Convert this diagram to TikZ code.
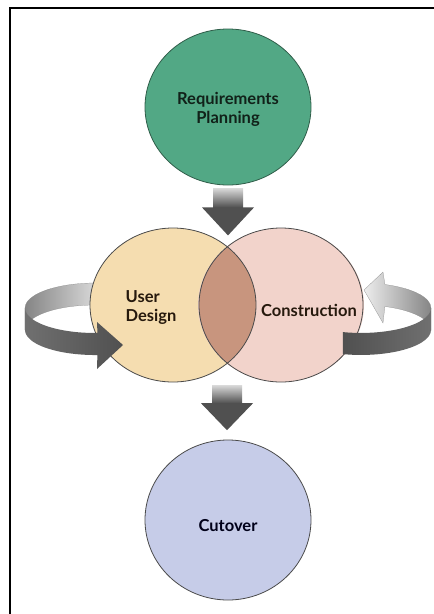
\documentclass[tikz,border=0pt]{standalone}
\usepackage{fontspec}
\setmainfont{Lato}
\usetikzlibrary{shapes.geometric,calc}
\definecolor{reqgreen}{HTML}{52A885}
\definecolor{reqline}{HTML}{2F5D49}
\definecolor{userfill}{HTML}{F5DDB0}
\definecolor{consfill}{HTML}{F2D3CB}
\definecolor{overlapfill}{HTML}{C8957E}
\definecolor{cutfill}{HTML}{C6CCE8}
\definecolor{rimline}{HTML}{4A4A4A}
\definecolor{bandlight}{HTML}{EDEDED}
\definecolor{bandmid}{HTML}{858585}
\definecolor{banddark}{HTML}{505050}
\tikzset{
  phase/.style={ellipse, inner sep=0pt, minimum width=166pt, minimum height=154pt},
  lbl/.style={font=\fontsize{16.5}{19}\selectfont\bfseries, align=center, text=black!85},
}
\begin{document}
\begin{tikzpicture}[x=1pt,y=-1pt]
  \useasboundingbox (0,0) rectangle (434,614);
  \draw[line width=2pt] (10,614) -- (10,8) -- (434,8);

  % left loop, back of the band
  \path[left color=bandmid, right color=bandlight, draw=bandmid, very thin] (25,308) arc[start angle=180, end angle=285, x radius=70, y radius=25]
    -- ++(0,22) arc[start angle=285, end angle=180, x radius=70, y radius=25] -- cycle;

  \node[phase, minimum height=156pt, fill=reqgreen, draw=reqline, thick] (req) at (228,107) {};
  \node[phase, fill=userfill] (user) at (173,305) {};
  \node[phase, fill=consfill] (cons) at (281,305) {};
  \node[phase, minimum height=160pt, fill=cutfill, draw=rimline, thick] (cut) at (228,520) {};

  \def\userE{(user.center) ellipse [x radius=83, y radius=77]}
  \def\consE{(cons.center) ellipse [x radius=82, y radius=77]}
  \begin{scope}
    \clip \userE;
    \fill[overlapfill] \consE;
  \end{scope}
  \draw[rimline, thick] \userE;
  \draw[rimline, thick] \consE;

  % left loop, front of the band
  \path[left color=bandmid!60!banddark, right color=banddark] (25,308) arc[start angle=180, end angle=88, x radius=70, y radius=25]
    -- (97,322) -- (123,345) -- (97,369) -- (97.4,355) arc[start angle=88, end angle=180, x radius=70, y radius=25] -- cycle;

  % right loop
  \path[left color=bandlight, right color=bandmid, draw=bandmid, very thin] (431,308) arc[start angle=0, end angle=-70, x radius=70, y radius=25]
    -- (383,272) -- (364,290) -- (383,323) -- (384.9,306.5) arc[start angle=-70, end angle=0, x radius=70, y radius=25] -- cycle;
  \path[left color=banddark, right color=bandmid!60!banddark] (342.9,332.1) arc[start angle=105, end angle=0, x radius=70, y radius=25]
    -- ++(0,22) arc[start angle=0, end angle=105, x radius=70, y radius=25] -- cycle;

  % down arrows
  \coordinate (venn) at ($(user.south)!0.5!(cons.south)$);
  \path[top color=bandlight!80!bandmid, bottom color=banddark] ($(req.south)+(-15,3)$) rectangle ($(req.south)+(15,22)$);
  \fill[banddark] ($(req.south)+(-26,22)$) -- ($(req.south)+(26,22)$) -- ($(req.south)+(0,50)$) -- cycle;
  \path[top color=bandlight!80!bandmid, bottom color=banddark] ($(venn)+(-15,3)$) rectangle ($(venn)+(15,21)$);
  \fill[banddark] ($(venn)+(-26,21)$) -- ($(venn)+(26,21)$) -- ($(venn)+(0,48)$) -- cycle;

  \node[lbl, text=reqline!35!black] (reqtxt) at ($(req)+(0,2)$) {Requirements\\Planning};
  \node[lbl, align=left, text=black!80!brown] (usertxt) at (151,308) {User\\Design};
  \node[lbl, text=black!80!brown] (constxt) at (309,310) {Construction};
  \node[lbl, text=black!90!blue] (cuttxt) at ($(cut)+(0,6)$) {Cutover};
\end{tikzpicture}
\end{document}
